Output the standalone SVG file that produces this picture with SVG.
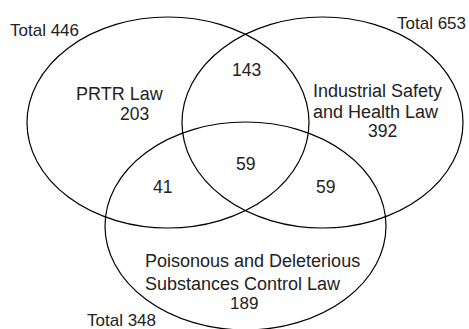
<svg xmlns="http://www.w3.org/2000/svg" width="469" height="329" viewBox="0 0 469 329">
<style>
.c{fill:none;stroke:#000;stroke-width:1.2}
text{font-family:"Liberation Sans",Arial,sans-serif;font-size:17.5px;fill:#222}
.l{font-size:18px}
.t{font-size:17px}
</style>
<rect width="469" height="329" fill="#fff"/>
<g id="prtr">
<ellipse class="c" cx="168" cy="122.5" rx="141" ry="105.5"/>
<text class="l" x="76" y="100">PRTR Law</text>
<text x="120" y="119.5">203</text>
<text class="t" x="10" y="36">Total 446</text>
</g>
<g id="ishl">
<ellipse class="c" cx="322.5" cy="122.5" rx="140.5" ry="105.5"/>
<text class="l" x="313" y="97">Industrial Safety</text>
<text class="l" x="313" y="118">and Health Law</text>
<text x="368" y="137">392</text>
<text class="t" x="397" y="29">Total 653</text>
</g>
<g id="pdscl">
<ellipse class="c" cx="245.5" cy="226" rx="140.5" ry="104"/>
<text class="l" x="145" y="267">Poisonous and Deleterious</text>
<text class="l" x="145" y="289.5">Substances Control Law</text>
<text x="230" y="309" style="font-size:17px">189</text>
<text class="t" x="87" y="326">Total 348</text>
</g>
<g id="overlaps">
<text x="232" y="76">143</text>
<text x="236" y="170">59</text>
<text x="153" y="193">41</text>
<text x="316" y="193">59</text>
</g>
</svg>
